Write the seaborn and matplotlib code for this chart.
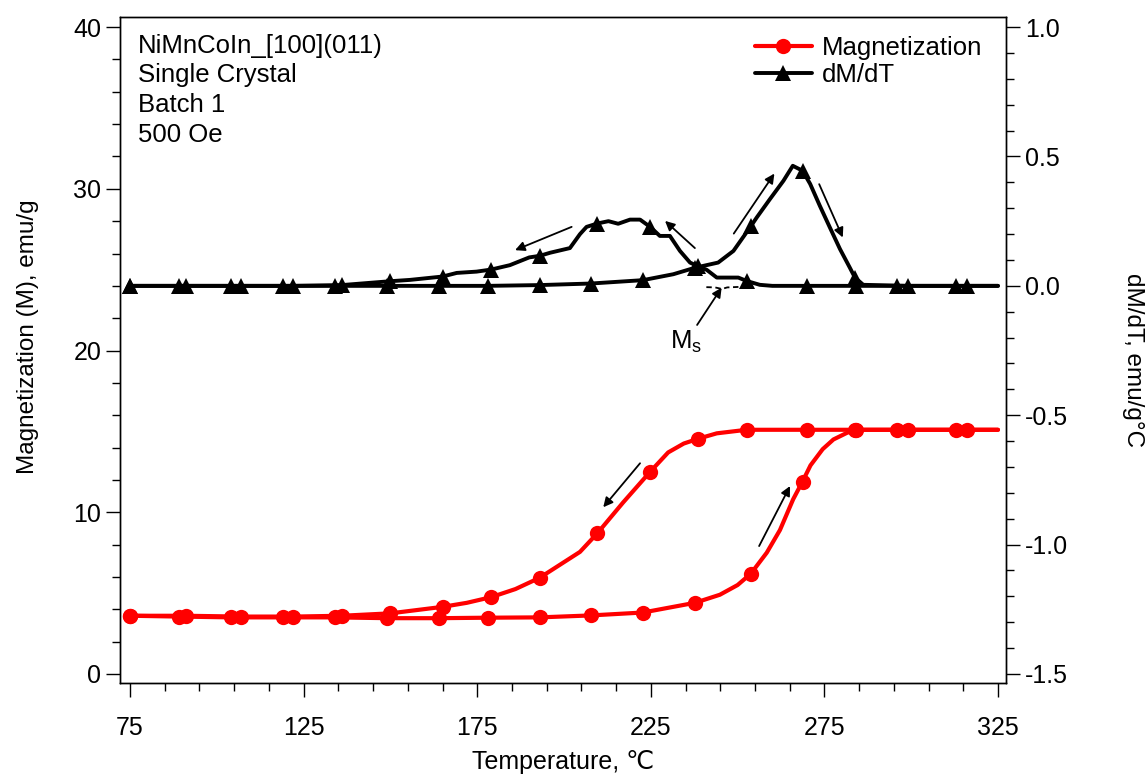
import matplotlib
matplotlib.use("Agg")
import matplotlib.pyplot as plt
import seaborn as sns

# magnetization, cooling branch (emu/g)
cool_T = [75, 91, 107, 122, 136, 150, 165, 172, 179, 186, 193, 204.6, 209.6, 217, 224.8,
          230, 234.5, 238.7, 244, 252.6, 270, 284, 296, 313, 325]
cool_M = [3.6, 3.6, 3.55, 3.55, 3.6, 3.75, 4.15, 4.4, 4.75, 5.25, 5.95, 7.55, 8.7, 10.6, 12.5,
          13.7, 14.25, 14.55, 14.88, 15.1, 15.1, 15.1, 15.1, 15.1, 15.1]
cool_mark = [0, 1, 2, 3, 4, 5, 6, 8, 10, 12, 14, 17, 19, 20, 21, 22, 23]

# magnetization, heating branch (emu/g)
heat_T = [75, 89, 104, 119, 134, 149, 164, 178, 193, 207.7, 222.7, 237.7, 244.9, 250, 253.8,
          258.4, 262.2, 266, 268.7, 271, 274.5, 277.6, 281.4, 283.8, 299, 316, 325]
heat_M = [3.6, 3.55, 3.5, 3.5, 3.5, 3.45, 3.45, 3.48, 3.5, 3.62, 3.8, 4.4, 4.9, 5.5, 6.2,
          7.5, 8.9, 10.8, 11.9, 12.9, 13.9, 14.5, 14.9, 15.1, 15.1, 15.1, 15.1]
heat_mark = [0, 1, 2, 3, 4, 5, 6, 7, 8, 9, 10, 11, 14, 18, 23, 24, 25]

# dM/dT, cooling (emu/g C)
dcool_T = [75, 91, 107, 122, 136, 150, 155.6, 165, 169.1, 174.8, 179, 184.4, 190, 193,
           196, 201.7, 204.6, 206.5, 209.6, 212.8, 215.6, 219, 221.9, 224.8, 227.6,
           230.5, 233.4, 236.3, 238.7, 241.1, 244, 250.2, 252.6, 256.4, 260, 270, 284,
           296, 313, 325]
dcool_v = [0, 0, 0, 0, 0.003, 0.018, 0.023, 0.036, 0.05, 0.055, 0.063, 0.08, 0.11, 0.116,
           0.128, 0.146, 0.2, 0.228, 0.241, 0.25, 0.24, 0.256, 0.256, 0.228, 0.193,
           0.193, 0.135, 0.09, 0.075, 0.062, 0.032, 0.032, 0.019, 0.004, 0, 0, 0,
           0, 0, 0]
dcool_mark = [0, 1, 2, 3, 4, 5, 7, 10, 13, 18, 23, 28, 32, 35, 36, 37, 38]

# dM/dT, heating (emu/g C)
dheat_T = [75, 89, 104, 119, 134, 149, 164, 178, 193, 207.7, 222.7, 231.5, 237.7, 244.4,
           248.8, 253.8, 255.5, 259.3, 263.2, 265.9, 268.7, 270.9, 273.7, 276.6, 279.5,
           282.3, 283.8, 286.2, 299, 316, 325]
dheat_v = [0, 0, 0, 0, 0, 0, 0, 0, 0.003, 0.009, 0.022, 0.045, 0.07, 0.09,
           0.135, 0.23, 0.264, 0.335, 0.406, 0.464, 0.445, 0.394, 0.309, 0.225, 0.142,
           0.071, 0.032, 0.004, 0, 0, 0]
dheat_mark = [0, 1, 2, 3, 4, 5, 6, 7, 8, 9, 10, 12, 15, 20, 26, 28, 29]

# small dashed piece at Ms
ms_T = [241.0, 243.5, 245.5, 247.0, 250.5]
ms_v = [-0.005, -0.006, -0.012, -0.006, -0.004]

sns.set_style("ticks")
plt.rcParams['font.family'] = ['Liberation Sans', 'DejaVu Sans']
plt.rcParams['axes.unicode_minus'] = False
plt.rcParams['mathtext.fontset'] = 'custom'
plt.rcParams['mathtext.rm'] = 'Liberation Sans'
plt.rcParams['axes.edgecolor'] = 'black'
plt.rcParams['axes.labelcolor'] = 'black'
plt.rcParams['text.color'] = 'black'
plt.rcParams['xtick.color'] = 'black'
plt.rcParams['ytick.color'] = 'black'

fig = plt.figure(figsize=(11.46, 7.76), dpi=100)
ax = fig.add_axes([0.1047, 0.1198, 0.7731, 0.8582])
ax2 = ax.twinx()

red_kw = dict(color='red', lw=3, marker='o', markersize=11, mec='red', mew=0,
              sort=False, estimator=None)
blk_kw = dict(color='black', lw=2.8, marker='^', markersize=12, mec='black', mew=0,
              sort=False, estimator=None)

sns.lineplot(x=cool_T, y=cool_M, ax=ax, markevery=cool_mark, label='Magnetization', **red_kw)
sns.lineplot(x=heat_T, y=heat_M, ax=ax, markevery=heat_mark, **red_kw)
sns.lineplot(x=dcool_T, y=dcool_v, ax=ax2, markevery=dcool_mark, label='dM/dT', **blk_kw)
sns.lineplot(x=dheat_T, y=dheat_v, ax=ax2, markevery=dheat_mark, **blk_kw)
sns.lineplot(x=ms_T, y=ms_v, ax=ax2, color='black', lw=1.3, linestyle=(0, (3, 2)),
             sort=False, estimator=None)

for a in (ax, ax2):
    if a.get_legend() is not None:
        a.get_legend().remove()

ax.set_xlim(72.1, 327.3)
ax.set_ylim(-0.56, 40.62)
ax2.set_ylim(-1.535, 1.0388)

ax.set_xticks([75, 125, 175, 225, 275, 325])
ax.set_xticks(list(range(75, 326, 10)), minor=True)
ax.set_yticks([0, 10, 20, 30, 40])
ax.set_yticks(list(range(0, 41, 2)), minor=True)
ax2.set_yticks([-1.5, -1.0, -0.5, 0.0, 0.5, 1.0])
ax2.set_yticks([i / 10 for i in range(-15, 11)], minor=True)
ax2.set_yticklabels(['-1.5', '-1.0', '-0.5', '0.0', '0.5', '1.0'])

for a in (ax, ax2):
    a.tick_params(which='major', length=10, width=1, labelsize=18, direction='out')
    a.tick_params(which='minor', length=5.5, width=1, direction='out')
    for s in a.spines.values():
        s.set_linewidth(1)
        s.set_color('black')
ax.tick_params(axis='x', pad=14)

ax.set_xlabel('Temperature, \u2103', fontsize=18)
ax.xaxis.set_label_coords(0.5, -0.119)
ax.xaxis.label.set_va('center')
ax.set_ylabel('Magnetization (M), emu/g', fontsize=17.5)
ax.yaxis.label.set_va('center')
ax.yaxis.set_label_coords(-0.104, 0.52)
ax2.set_ylabel('dM/dT, emu/g\u00b0C', fontsize=17.5, rotation=270)
ax2.yaxis.label.set_va('center')
ax2.yaxis.set_label_coords(1.143, 0.485)

ax.text(0.02, 0.975, 'NiMnCoIn_[100](011)\nSingle Crystal\nBatch 1\n500 Oe',
        transform=ax.transAxes, va='top', ha='left', fontsize=18.5, linespacing=1.3)

arr = dict(arrowstyle='-|>', color='black', lw=1.3, mutation_scale=14, shrinkA=0, shrinkB=0)
ax2.annotate('', xy=(185.9, 0.138), xytext=(202.2, 0.228), arrowprops=arr)
ax2.annotate('', xy=(229.1, 0.251), xytext=(237.7, 0.146), arrowprops=arr)
ax2.annotate('', xy=(260.6, 0.434), xytext=(248.9, 0.202), arrowprops=arr)
ax2.annotate('', xy=(280.3, 0.187), xytext=(273.5, 0.393), arrowprops=arr)
ax.annotate('', xy=(211.3, 10.31), xytext=(221.9, 13.03), arrowprops=arr)
ax.annotate('', xy=(265.1, 11.62), xytext=(256.2, 7.91), arrowprops=arr)
ax2.annotate('M$_\\mathrm{s}$', xy=(245.4, -0.007), xytext=(235.2, -0.215),
             fontsize=18.5, ha='center', va='center', arrowprops=arr)

h1, l1 = ax.get_legend_handles_labels()
h2, l2 = ax2.get_legend_handles_labels()
ax2.legend(h1 + h2, l1 + l2, loc='upper right', bbox_to_anchor=(0.985, 0.987),
           frameon=False, fontsize=18.5, handlelength=2.2, handletextpad=0.4,
           labelspacing=0.1, borderaxespad=0)

fig.savefig('out.png', dpi=100)
